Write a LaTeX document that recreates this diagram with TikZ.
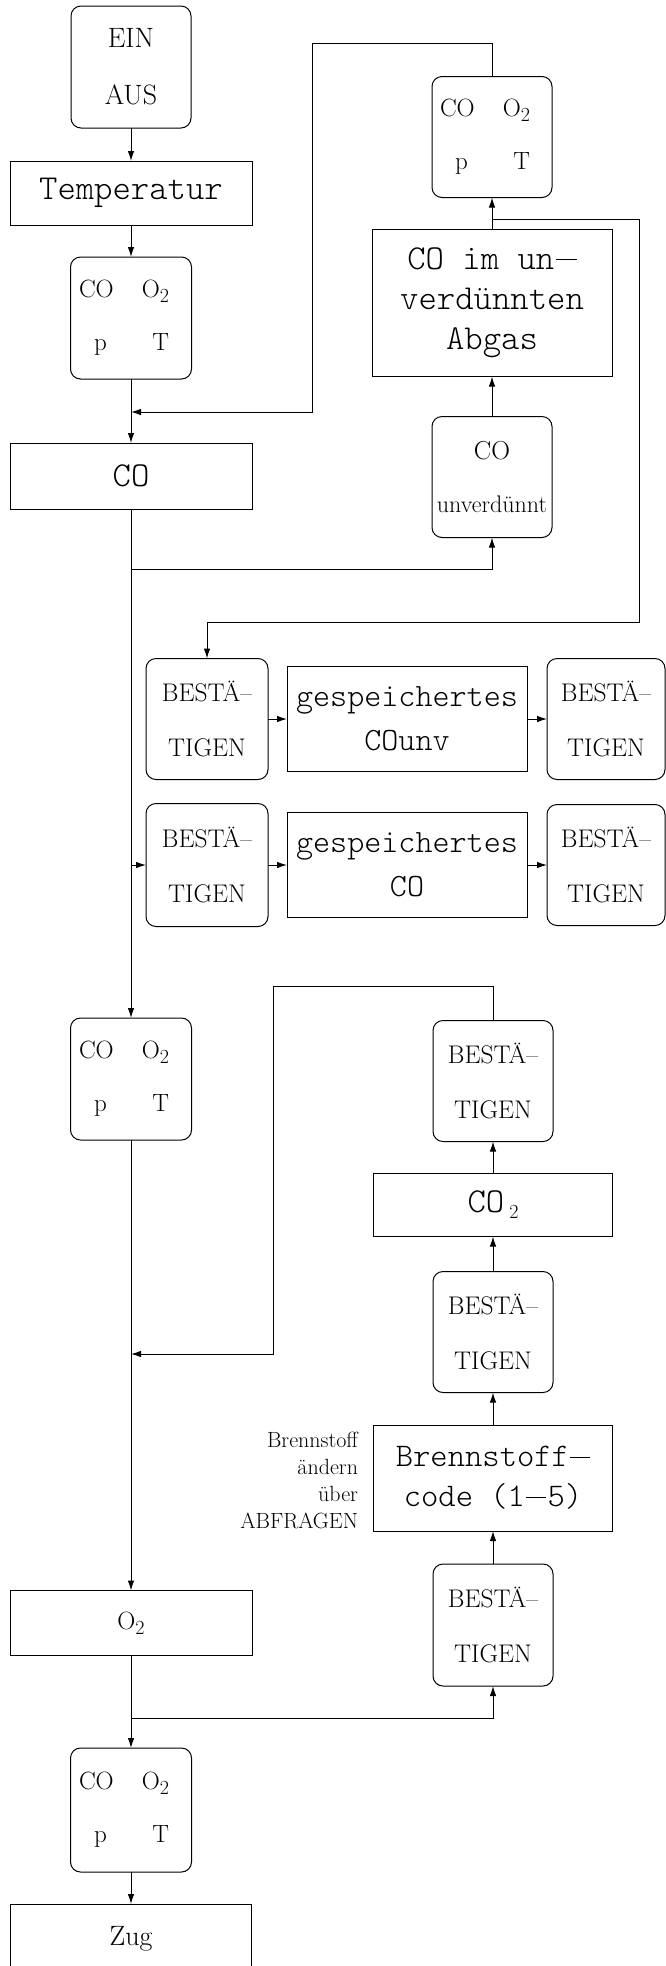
\documentclass[tikz,border=0pt]{standalone}
\usepackage{fontspec}
\newfontfamily\ttlight{lmmonolt10-regular.otf}
\usetikzlibrary{arrows.meta}
\newcommand\subtwo[1][-5pt]{\raisebox{#1}{\rmfamily\fontsize{20}{20}\selectfont 2}}
\newcommand\longdash{\hspace{0.04em}\rule[0.27em]{0.6em}{0.9pt}\hspace{0.04em}}
\newcommand\quadtext{\makebox[104pt]{CO\hfill O\subtwo\hspace*{14pt}}\\\makebox[104pt]{\hspace*{15pt}p\hfill T\hspace*{14pt}}}
\begin{document}
\begin{tikzpicture}[x=1pt,y=-1pt,
  every node/.style={inner sep=0pt, outer sep=0pt, align=center},
  box/.style={draw, line width=1pt, font=\ttlight\fontsize{35}{40}\selectfont},
  rbox/.style={draw, line width=1pt, rounded corners=10pt},
  quadbox/.style={rbox, minimum width=121pt, minimum height=122pt, font=\fontsize{25}{53}\selectfont},
  best/.style={rbox, minimum width=120pt, minimum height=121pt, font=\fontsize{25.5}{55}\selectfont},
  arr/.style={-{Latex[length=10pt,width=6.5pt]}, line width=1pt}]
\clip (0,0) rectangle (666,1966);
% left column
\node[rbox, minimum width=120pt, minimum height=122pt, font=\fontsize{28}{57}\selectfont] (ein) at (131,67) {EIN\\AUS};
\node[box, minimum width=242pt, minimum height=64pt] (temp) at (131,193) {Temperatur};
\node[quadbox] (q1) at (131,318) {\quadtext};
\node[box, minimum width=242pt, minimum height=66pt] (co) at (131,476) {CO};
\node[quadbox] (q3) at (131,1079) {\quadtext};
\node[box, minimum width=242pt, minimum height=65pt, font=\fontsize{25}{30}\selectfont] (o2) at (131,1623) {O\subtwo};
\node[quadbox, minimum height=124pt] (q4) at (131,1810) {\quadtext};
\node[box, minimum width=241pt, minimum height=70pt, font=\fontsize{28}{30}\selectfont] (zug) at (131,1939) {Zug};
% right column (top)
\node[quadbox, minimum width=120pt, minimum height=121pt] (q2) at (492,137) {\quadtext};
\node[box, minimum width=240pt, minimum height=147pt] (abgas) at (492,303) {CO im un\longdash\\verdünnten\\Abgas};
\node[rbox, minimum width=120pt, minimum height=121pt, font=\fontsize{24}{53}\selectfont] (cou) at (492,477) {{\fontsize{26}{53}\selectfont CO}\\unverdünnt};
% middle rows
\node[best, minimum width=122pt] (b1) at (207,719) {BESTÄ–\\TIGEN};
\node[box, minimum width=240pt, minimum height=105pt, font=\ttlight\fontsize{32.5}{44}\selectfont] (g1) at (407,719) {gespeichertes\\COunv};
\node[best, minimum width=118pt] (b2) at (606,719) {BESTÄ–\\TIGEN};
\node[best, minimum width=122pt, minimum height=123pt] (b3) at (207,865) {BESTÄ–\\TIGEN};
\node[box, minimum width=240pt, minimum height=105pt, font=\ttlight\fontsize{32.5}{44}\selectfont] (g2) at (407,865) {gespeichertes\\CO};
\node[best, minimum width=118pt] (b4) at (606,865) {BESTÄ–\\TIGEN};
% right column (bottom)
\node[best] (b5) at (493,1081) {BESTÄ–\\TIGEN};
\node[box, minimum width=239pt, minimum height=63pt] (co2) at (493,1205) {CO\hspace{5pt}\subtwo[-6pt]};
\node[best] (b6) at (493,1332) {BESTÄ–\\TIGEN};
\node[box, minimum width=239pt, minimum height=106pt, font=\ttlight\fontsize{33}{40}\selectfont] (bc) at (493,1478) {Brennstoff\longdash\\code (1\longdash 5)};
\node[best, minimum height=122pt] (b7) at (493,1625) {BESTÄ–\\TIGEN};
\node[anchor=east, align=right, font=\fontsize{22}{27}\selectfont] (lbl) at (358,1480) {Brennstoff\\ändern\\über\\ABFRAGEN};
% junction points
\coordinate (j1) at (131,412);
\coordinate (j2) at (131,569);
\coordinate (r1) at (492,219);
\coordinate (j3) at (131,865);
\coordinate (j4) at (131,1354);
\coordinate (j5) at (131,1718);
% connectors
\draw[arr] (ein) -- (temp);
\draw[arr] (temp) -- (q1);
\draw[arr] (q1) -- (co);
\draw[arr] (q2.north) |- (312,43) |- (j1);
\draw[arr] (co) -- (q3);
\draw[arr] (j2) -| (cou.south);
\draw[arr] (cou) -- (abgas);
\draw[arr] (abgas.north -| q2.south) -- (q2.south);
\draw[arr] (r1) -| (639,622) -| (b1.north);
\draw[arr] (j3) -- (b3.west);
\draw[arr] (b1) -- (g1);
\draw[arr] (g1) -- (b2);
\draw[arr] (b3) -- (g2);
\draw[arr] (g2) -- (b4);
\draw[arr] (q3) -- (o2);
\draw[arr] (b5.north) |- (273,986) |- (j4);
\draw[arr] (b7) -- (bc);
\draw[arr] (bc) -- (b6);
\draw[arr] (b6) -- (co2);
\draw[arr] (co2) -- (b5);
\draw[arr] (j5) -| (b7.south);
\draw[arr] (o2) -- (q4);
\draw[arr] (q4) -- (zug);
\end{tikzpicture}
\end{document}
